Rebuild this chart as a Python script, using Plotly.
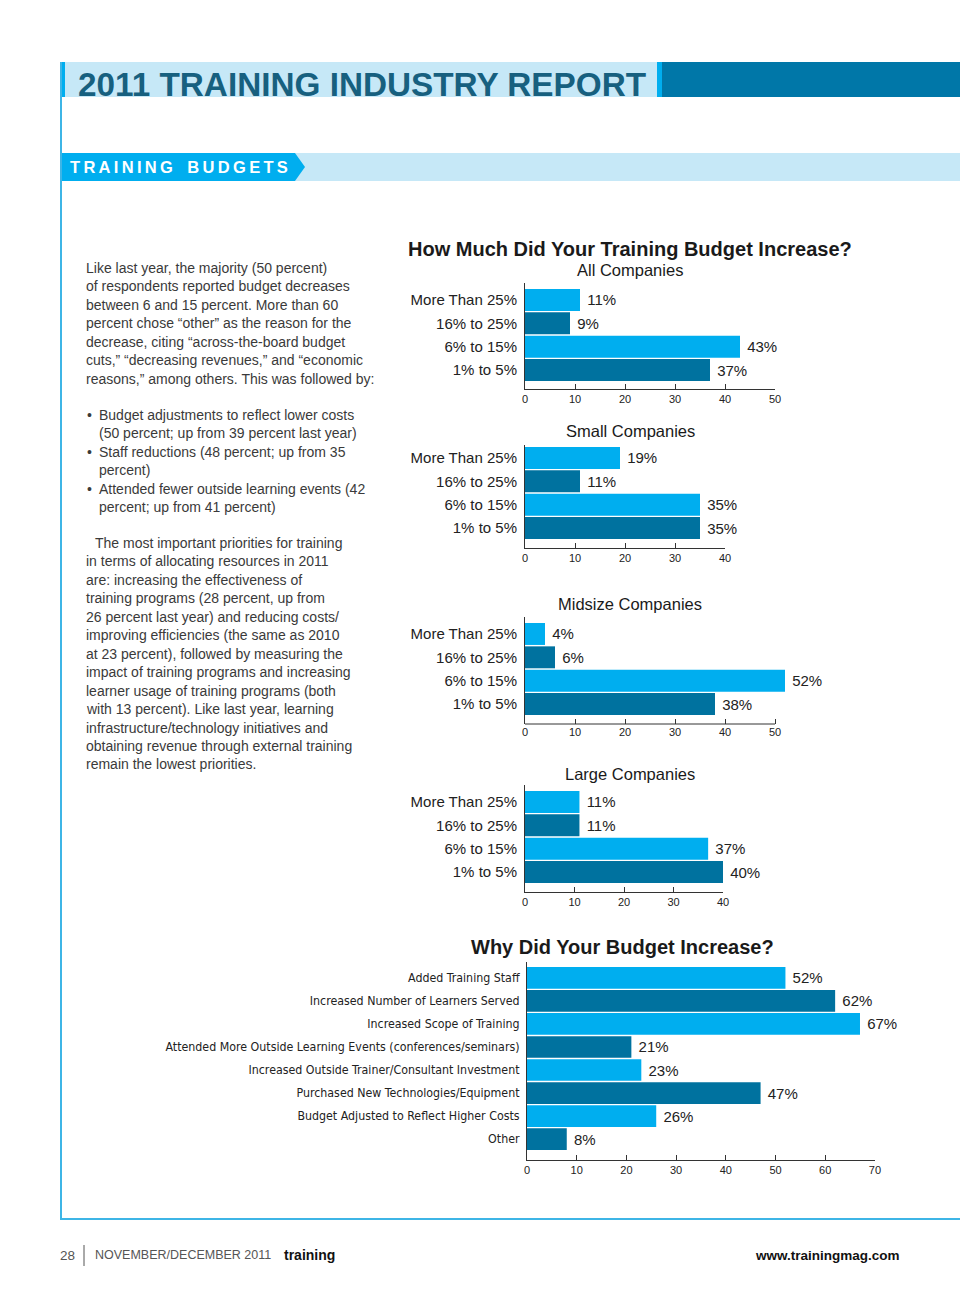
import plotly.graph_objects as go

W, H = 960, 1290

# ---------------- data ----------------
size_cats = ["More Than 25%", "16% to 25%", "6% to 15%", "1% to 5%"]
all_vals = [11, 9, 43, 37]
small_vals = [19, 11, 35, 35]
mid_vals = [4, 6, 52, 38]
large_vals = [11, 11, 37, 40]

why_cats = [
    "Added Training Staff",
    "Increased Number of Learners Served",
    "Increased Scope of Training",
    "Attended More Outside Learning Events (conferences/seminars)",
    "Increased Outside Trainer/Consultant Investment",
    "Purchased New Technologies/Equipment",
    "Budget Adjusted to Reflect Higher Costs",
    "Other",
]
why_vals = [52, 62, 67, 21, 23, 47, 26, 8]

ticks_50 = [0, 10, 20, 30, 40, 50]
ticks_40 = [0, 10, 20, 30, 40]
ticks_70 = [0, 10, 20, 30, 40, 50, 60, 70]

main_title = "2011 TRAINING INDUSTRY REPORT"
section_title = "TRAINING BUDGETS"
q1_title = "How Much Did Your Training Budget Increase?"
q2_title = "Why Did Your Budget Increase?"
sub_titles = ["All Companies", "Small Companies", "Midsize Companies", "Large Companies"]

para1 = [
    "Like last year, the majority (50 percent)",
    "of respondents reported budget decreases",
    "between 6 and 15 percent. More than 60",
    "percent chose \u201cother\u201d as the reason for the",
    "decrease, citing \u201cacross-the-board budget",
    "cuts,\u201d \u201cdecreasing revenues,\u201d and \u201ceconomic",
    "reasons,\u201d among others. This was followed by:",
]
bullets = [
    ("\u2022", "Budget adjustments to reflect lower costs"),
    ("", "(50 percent; up from 39 percent last year)"),
    ("\u2022", "Staff reductions (48 percent; up from 35"),
    ("", "percent)"),
    ("\u2022", "Attended fewer outside learning events (42"),
    ("", "percent; up from 41 percent)"),
]
para2 = [
    "The most important priorities for training",
    "in terms of allocating resources in 2011",
    "are: increasing the effectiveness of",
    "training programs (28 percent, up from",
    "26 percent last year) and reducing costs/",
    "improving efficiencies (the same as 2010",
    "at 23 percent), followed by measuring the",
    "impact of training programs and increasing",
    "learner usage of training programs (both",
    "with 13 percent). Like last year, learning",
    "infrastructure/technology initiatives and",
    "obtaining revenue through external training",
    "remain the lowest priorities.",
]
footer_left = ["28", "NOVEMBER/DECEMBER 2011", "training"]
footer_right = "www.trainingmag.com"

# ---------------- style ----------------
LIGHT = "#00AEEF"
DARK = "#00729F"
BAND = "#C6E8F7"
BAND_DARK = "#0077A8"
FRAME = "#3DB5E6"
TITLE_TEAL = "#17607F"
SANS = "Liberation Sans, Arial, Helvetica, sans-serif"
NARROW = "DejaVu Sans Condensed, Liberation Sans Narrow, sans-serif"
BARGAP = 0.06


def px(x):
    return x / W


def py(y):
    return 1 - y / H


fig = go.Figure()

# chart geometry (pixels): left edge, pixels per unit, axis top, first bar top, last bar bottom, axis line y
charts = [
    dict(cats=size_cats, vals=all_vals, ticks=ticks_50, x0=525, ppu=5.0, xr=50, top=283, bt=289, bb=381, ax=389, font=SANS, fs=15),
    dict(cats=size_cats, vals=small_vals, ticks=ticks_40, x0=525, ppu=5.0, xr=40, top=445, bt=447, bb=539, ax=548, font=SANS, fs=15),
    dict(cats=size_cats, vals=mid_vals, ticks=ticks_50, x0=525, ppu=5.0, xr=56, top=617, bt=623, bb=715, ax=724, font=SANS, fs=15),
    dict(cats=size_cats, vals=large_vals, ticks=ticks_40, x0=525, ppu=4.95, xr=40, top=785, bt=791, bb=883, ax=892, font=SANS, fs=15),
    dict(cats=why_cats, vals=why_vals, ticks=ticks_70, x0=527, ppu=4.97, xr=70, top=962, bt=967, bb=1150, ax=1160, font=NARROW, fs=12.3),
]

layout_axes = {}
shapes = []
for i, c in enumerate(charts):
    k = "" if i == 0 else str(i + 1)
    n = len(c["cats"])
    p = (c["bb"] - c["bt"]) / (n - BARGAP)
    slot_top = c["bt"] - BARGAP / 2 * p
    slot_bot = c["bb"] + BARGAP / 2 * p
    top_pad = (slot_top - c["top"]) / p
    bot_pad = (c["ax"] - slot_bot) / p
    colors = [LIGHT if j % 2 == 0 else DARK for j in range(n)]
    fig.add_trace(go.Bar(
        x=c["vals"], y=c["cats"], orientation="h",
        marker=dict(color=colors, line=dict(width=0)),
        text=["\u00a0" + f"{v}%" for v in c["vals"]],
        textposition="outside", constraintext="none", cliponaxis=False,
        textfont=dict(family=SANS, size=15, color="#222222"),
        xaxis="x" + k, yaxis="y" + k, showlegend=False, hoverinfo="skip",
    ))
    last_tick = c["ticks"][-1]
    extended = c["xr"] > last_tick
    x1 = c["x0"] + c["ppu"] * c["xr"]
    layout_axes["xaxis" + k] = dict(
        domain=[px(c["x0"]), px(x1)], range=[0, c["xr"]],
        tickvals=c["ticks"], ticks="inside", ticklen=5, tickcolor="#333333",
        showline=not extended, linecolor="#333333", linewidth=1, showgrid=False, zeroline=False,
        tickfont=dict(family=SANS, size=11, color="#222222"), anchor="y" + k, fixedrange=True,
        automargin=False,
    )
    if extended:
        # axis line stops at the last tick, as in the original
        shapes.append(dict(type="line", xref="x" + k, yref="y" + k + " domain",
                           x0=0, x1=last_tick, y0=0, y1=0, line=dict(color="#333333", width=1)))
    layout_axes["yaxis" + k] = dict(
        domain=[py(c["ax"]), py(c["top"])], type="category", categoryarray=c["cats"],
        range=[n - 0.5 + bot_pad, -0.5 - top_pad], showline=True, linecolor="#333333",
        linewidth=1, ticks="", showgrid=False, zeroline=False, ticklabelstandoff=4,
        tickfont=dict(family=c["font"], size=c["fs"], color="#222222"), anchor="x" + k, fixedrange=True,
        automargin=False,
    )

fig.update_layout(**layout_axes)

# page frame
shapes.append(dict(type="line", xref="paper", yref="paper", x0=px(61), x1=px(61), y0=py(62), y1=py(1219),
                   line=dict(color=FRAME, width=2)))
shapes.append(dict(type="line", xref="paper", yref="paper", x0=px(60), x1=px(960), y0=py(1219), y1=py(1219),
                   line=dict(color=FRAME, width=2)))
# header bands
shapes.append(dict(type="rect", xref="paper", yref="paper", x0=px(65), x1=px(657), y0=py(97), y1=py(62),
                   fillcolor=BAND, line=dict(width=0), layer="below"))
shapes.append(dict(type="rect", xref="paper", yref="paper", x0=px(60), x1=px(65), y0=py(97), y1=py(62),
                   fillcolor=LIGHT, line=dict(width=0), layer="below"))
shapes.append(dict(type="rect", xref="paper", yref="paper", x0=px(657), x1=px(662), y0=py(97), y1=py(62),
                   fillcolor=LIGHT, line=dict(width=0), layer="below"))
shapes.append(dict(type="rect", xref="paper", yref="paper", x0=px(662), x1=px(960), y0=py(97), y1=py(62),
                   fillcolor=BAND_DARK, line=dict(width=0), layer="below"))
# section band with arrow tab
shapes.append(dict(type="rect", xref="paper", yref="paper", x0=px(60), x1=px(960), y0=py(181), y1=py(153),
                   fillcolor=BAND, line=dict(width=0), layer="below"))
arrow = "M {:.5f},{:.5f} L {:.5f},{:.5f} L {:.5f},{:.5f} L {:.5f},{:.5f} L {:.5f},{:.5f} Z".format(
    px(60), py(153), px(295), py(153), px(305), py(167), px(295), py(181), px(60), py(181))
shapes.append(dict(type="path", xref="paper", yref="paper", path=arrow, fillcolor=LIGHT,
                   line=dict(width=0), layer="below"))
# footer divider
shapes.append(dict(type="line", xref="paper", yref="paper", x0=px(84), x1=px(84), y0=py(1245), y1=py(1266),
                   line=dict(color="#555555", width=1)))

ann = []
PAD = 2  # annotation box inner padding compensation


def text(x, y, s, size, color="#222222", family=SANS, xanchor="left", bold=False):
    if xanchor == "left":
        x -= PAD
    elif xanchor == "right":
        x += PAD
    ann.append(dict(xref="paper", yref="paper", x=px(x), y=py(y), text=s, showarrow=False,
                    xanchor=xanchor, yanchor="middle", align="center" if xanchor == "center" else xanchor,
                    font=dict(family=family, size=size, color=color, weight="bold" if bold else "normal")))


text(78, 84, main_title, 33.3, TITLE_TEAL, bold=True)
thin = "\u2009"
spaced = thin.join(list(section_title)).replace(thin + " " + thin, thin + " " + thin + thin)
text(70, 167, spaced, 16.5, "white", bold=True)

text(630, 249, q1_title, 20, "#1a1a1a", xanchor="center", bold=True)
sub_y = [270, 431, 604, 774]
for s, y in zip(sub_titles, sub_y):
    text(630, y, s, 16.5, "#1a1a1a", xanchor="center")
text(622, 947, q2_title, 20, "#1a1a1a", xanchor="center", bold=True)

BODY = "#3a3a3a"
LH = 18.45
for j, line in enumerate(para1):
    text(86, 268 + j * LH, line, 14, BODY)
for j, (b, line) in enumerate(bullets):
    y = 415 + j * LH
    if b:
        text(87, y, b, 14, BODY)
    text(99, y, line, 14, BODY)
for j, line in enumerate(para2):
    text(95 if j == 0 else 86, 543 + j * LH, line, 14, BODY)

text(60, 1255, footer_left[0], 13.5, "#555555")
text(95, 1255, footer_left[1], 12.5, "#555555")
text(284, 1255, footer_left[2], 14, "#111111", bold=True)
text(900, 1255, footer_right, 13.5, "#111111", xanchor="right", bold=True)

fig.update_layout(
    width=W, height=H, autosize=False,
    margin=dict(l=0, r=0, t=0, b=0, pad=0, autoexpand=False),
    paper_bgcolor="white", plot_bgcolor="rgba(0,0,0,0)",
    bargap=BARGAP, shapes=shapes, annotations=ann, showlegend=False,
    font=dict(family=SANS),
)

fig.write_html(
    "out.html",
    config={"responsive": False, "displayModeBar": False, "staticPlot": True},
    post_script=(
        "document.documentElement.style.overflow='hidden';"
        "document.body.style.margin='0px';document.body.style.overflow='hidden';"
    ),
)
